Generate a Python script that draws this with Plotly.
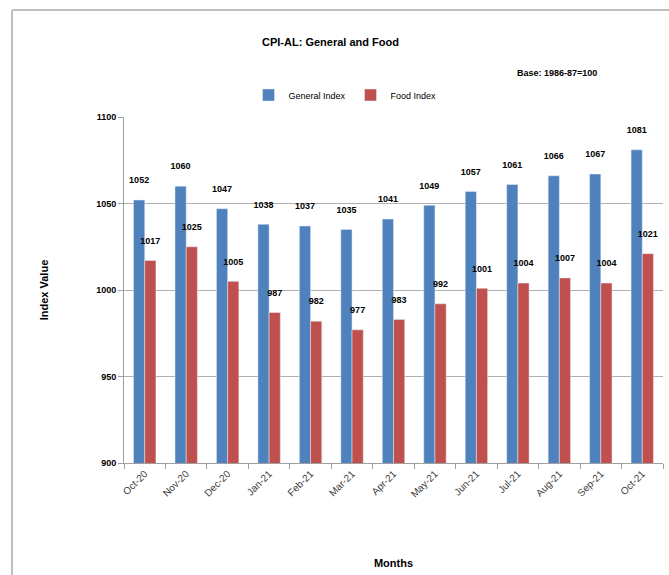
import plotly.graph_objects as go

months = ["Oct-20", "Nov-20", "Dec-20", "Jan-21", "Feb-21", "Mar-21", "Apr-21",
          "May-21", "Jun-21", "Jul-21", "Aug-21", "Sep-21", "Oct-21"]
general_index = [1052, 1060, 1047, 1038, 1037, 1035, 1041, 1049, 1057, 1061, 1066, 1067, 1081]
food_index = [1017, 1025, 1005, 987, 982, 977, 983, 992, 1001, 1004, 1007, 1004, 1021]
y_ticks = [900, 950, 1000, 1050, 1100]

W, H = 669, 575
L, R, T, B = 124, 6, 117, 112
pw = W - L - R
ph = H - T - B

label_font = dict(family="Liberation Sans", size=9, color="black")

fig = go.Figure()
fig.add_trace(go.Bar(x=months, y=general_index, name="General Index",
                     marker=dict(color="#4F81BD"),
                     text=general_index, texttemplate="<b>%{text}</b><br> ",
                     textposition="outside", constraintext="none",
                     textfont=label_font, cliponaxis=False))
fig.add_trace(go.Bar(x=months, y=food_index, name="Food Index",
                     marker=dict(color="#C0504D"),
                     text=food_index, texttemplate="<b>%{text}</b><br> ",
                     textposition="outside", constraintext="none",
                     textfont=label_font, cliponaxis=False))

fig.update_layout(
    width=W, height=H,
    margin=dict(l=L, r=R, t=T, b=B),
    paper_bgcolor="white", plot_bgcolor="white",
    barmode="group", bargap=0.46, bargroupgap=0,
    font=dict(family="Liberation Sans", color="black"),
    showlegend=True,
    legend=dict(orientation="h", x=(345 - L) / pw, y=1.0 + (T - 95) / ph,
                xanchor="center", yanchor="middle",
                font=dict(size=9, family="Liberation Sans"), itemwidth=30,
                bgcolor="rgba(0,0,0,0)"),
)

fig.update_yaxes(range=[900, 1100], tickvals=y_ticks,
                 ticktext=[f"<b>{v}</b>" for v in y_ticks],
                 showgrid=True, gridcolor="#B0B0B0", gridwidth=1,
                 showline=True, linecolor="#A0A0A0", linewidth=1,
                 ticks="outside", ticklen=5, tickcolor="#A0A0A0",
                 tickfont=dict(size=9, family="Liberation Sans"),
                 title=dict(text="<b>Index Value</b>", font=dict(size=11), standoff=45),
                 zeroline=False)
fig.update_xaxes(showline=True, linecolor="#A0A0A0", linewidth=1,
                 ticks="outside", ticklen=5, tickcolor="#A0A0A0", tickson="boundaries",
                 tickangle=-45,
                 tickfont=dict(size=10, family="Liberation Sans", color="#404040"),
                 title=dict(text="<b>Months</b>", font=dict(size=11), standoff=60))

# Title and subtitle
fig.add_annotation(text="<b>CPI-AL: General and Food</b>", xref="paper", yref="paper",
                   x=(330 - L) / pw, y=1 + (T - 42) / ph, showarrow=False,
                   font=dict(size=11), xanchor="center", yanchor="middle")
fig.add_annotation(text="<b>Base: 1986-87=100</b>", xref="paper", yref="paper",
                   x=(557 - L) / pw, y=1 + (T - 73) / ph, showarrow=False,
                   font=dict(size=9), xanchor="center", yanchor="middle")

# Chart area border (left and top edges; right and bottom fall outside the picture)
bx0 = (12 - L) / pw
by1 = 1 + (T - 10) / ph
fig.add_shape(type="line", xref="paper", yref="paper",
              x0=bx0, x1=bx0, y0=-B / ph, y1=by1,
              line=dict(color="#BFBFBF", width=2), layer="below")
fig.add_shape(type="line", xref="paper", yref="paper",
              x0=bx0, x1=(W - L) / pw, y0=by1, y1=by1,
              line=dict(color="#BFBFBF", width=2), layer="below")

fig.write_html("out.html", config={"displayModeBar": False},
               post_script="document.body.style.margin='0';document.body.style.overflow='hidden';")
